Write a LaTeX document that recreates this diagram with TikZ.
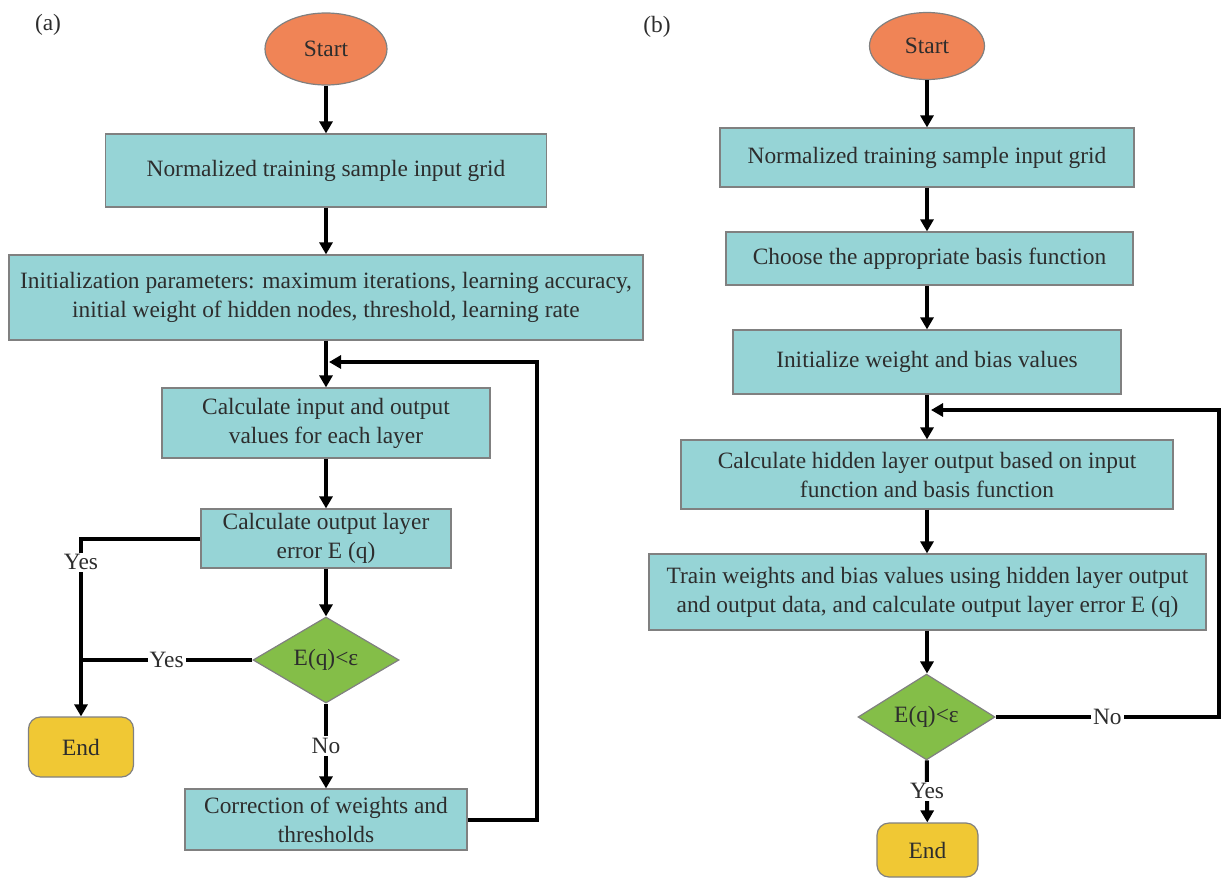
\documentclass[tikz,border=0pt]{standalone}
\usepackage{fontspec}
\setmainfont{Liberation Serif}
\usepackage{tikz}
\usetikzlibrary{shapes, arrows.meta}
\definecolor{agua}{RGB}{150, 212, 214}
\definecolor{naranja}{RGB}{240, 132, 86}
\definecolor{amarillo}{RGB}{240, 200, 52}
\definecolor{verde}{RGB}{132, 190, 72}
\definecolor{borde}{RGB}{128, 128, 128}
\definecolor{tinta}{RGB}{45, 45, 45}
\tikzset{
    strt/.style={draw=borde, ellipse, fill=naranja, text=tinta, inner sep=0pt, line width=0.6pt},
    proc/.style={draw=borde, rectangle, fill=agua, text=tinta, align=center, inner sep=0pt, line width=0.6pt},
    dcsn/.style={draw=borde, diamond, fill=verde, text=tinta, inner sep=0pt, line width=0.6pt},
    fin/.style={draw=borde, rectangle, rounded corners=6pt, fill=amarillo, text=tinta, inner sep=0pt, line width=0.6pt},
    conn/.style={-{Triangle[width=6.5pt,length=6pt]}, line width=2pt, black},
    wire/.style={-, line width=2pt, black},
    lbl/.style={fill=white, text=tinta, inner sep=1pt},
}
\begin{document}
\begin{tikzpicture}[x=0.5pt, y=-0.5pt, font=\fontsize{11.7pt}{14.5pt}\selectfont]
    \useasboundingbox (0,0) rectangle (1221,878);

    % (a)
    \node[text=tinta] (capA) at (48,25) {(a)};
    \node[strt, minimum width=61pt, minimum height=36pt] (startA) at (326,49) {Start};
    \node[proc, minimum width=220.5pt, minimum height=36.5pt] (normA) at (326,170.5) {Normalized training sample input grid};
    \node[proc, minimum width=317pt, minimum height=42.5pt] (initA) at (326,297.5) {Initialization parameters: maximum iterations, learning accuracy,\\initial weight of hidden nodes, threshold, learning rate};
    \node[proc, minimum width=164pt, minimum height=35pt] (calcA) at (326,423) {Calculate input and output\\values for each layer};
    \node[proc, minimum width=125pt, minimum height=29.5pt] (errA) at (326,538.5) {Calculate output layer\\error E (q)};
    \node[dcsn, minimum width=73pt, minimum height=43pt] (decA) at (326,660) {E(q)<ε};
    \node[fin, minimum width=52.5pt, minimum height=30pt] (endA) at (81,747) {End};
    \node[proc, minimum width=141pt, minimum height=30.5pt] (corrA) at (326,819.5) {Correction of weights and\\thresholds};
    \coordinate (turnA) at (537,362);
    \coordinate (mergeA) at (329,362);

    \draw[conn] (startA) -- (normA);
    \draw[conn] (normA) -- (initA);
    \draw[conn] (initA) -- (calcA);
    \draw[conn] (calcA) -- (errA);
    \draw[conn] (errA) -- (decA);
    \draw[conn] (decA) -- node[lbl] {No} (corrA);
    \draw[conn] (errA.west) -| node[lbl, pos=0.567] {Yes} (endA.north);
    \draw[wire] (decA.west) -- node[lbl] {Yes} (decA.west -| endA.north);
    \draw[conn] (corrA.east) -- (corrA.east -| turnA) -- (turnA) -- (mergeA);

    % (b)
    \node[text=tinta] (capB) at (657,27) {(b)};
    \node[strt, minimum width=57.5pt, minimum height=33.5pt] (startB) at (927,46) {Start};
    \node[proc, minimum width=207pt, minimum height=29.5pt] (normB) at (927,157.5) {Normalized training sample input grid};
    \node[proc, minimum width=203.5pt, minimum height=26.5pt] (basisB) at (929.5,258.5) {Choose the appropriate basis function};
    \node[proc, minimum width=194pt, minimum height=32pt] (initB) at (927,362) {Initialize weight and bias values};
    \node[proc, minimum width=246pt, minimum height=34.5pt] (hidB) at (927,474.5) {Calculate hidden layer output based on input\\function and basis function};
    \node[proc, minimum width=278.5pt, minimum height=38pt] (trainB) at (927.5,592) {Train weights and bias values using hidden layer output\\and output data, and calculate output layer error E (q)};
    \node[dcsn, minimum width=68.5pt, minimum height=40pt] (decB) at (926.5,717) {E(q)<ε};
    \node[fin, minimum width=50.5pt, minimum height=27pt] (endB) at (927.5,850) {End};
    \coordinate (turnB) at (1219,410);
    \coordinate (mergeB) at (931,410);

    \draw[conn] (startB) -- (normB);
    \draw[conn] (normB) -- (basisB.north -| normB);
    \draw[conn] (basisB.south -| normB) -- (initB);
    \draw[conn] (initB) -- (hidB);
    \draw[conn] (hidB) -- (trainB.north -| hidB);
    \draw[conn] (trainB.south -| hidB) -- (decB.north -| hidB);
    \draw[conn] (decB) -- node[lbl] {Yes} (endB);
    \draw[conn] (decB.east) -- node[lbl] {No} (decB.east -| turnB) -- (turnB) -- (mergeB);
\end{tikzpicture}
\end{document}
